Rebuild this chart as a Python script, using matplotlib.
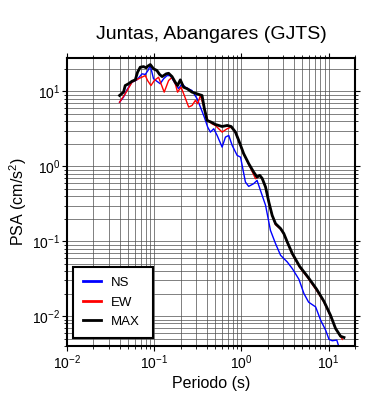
import numpy as np
import matplotlib
matplotlib.use("Agg")
import matplotlib.pyplot as plt
from matplotlib.ticker import LogLocator, NullFormatter

plt.rcParams['font.family'] = ['Liberation Sans', 'DejaVu Sans']
plt.rcParams['mathtext.default'] = 'regular'

# espectros de respuesta (periodo en s, PSA en cm/s2)
t_ns = [0.040, 0.0444, 0.0485, 0.0555, 0.0633, 0.0723, 0.0789, 0.0848, 0.090, 0.098,
        0.107, 0.117, 0.128, 0.140, 0.153, 0.174, 0.190, 0.208, 0.227, 0.271,
        0.310, 0.338, 0.376, 0.410, 0.440, 0.481, 0.526, 0.600, 0.655, 0.715,
        0.782, 0.893, 0.976, 1.11, 1.21, 1.38, 1.51, 1.65, 1.89, 2.15,
        2.46, 2.81, 3.35, 3.83, 4.56, 5.20, 5.89, 7.09, 8.09, 9.24,
        10.1, 11.0, 12.4, 13.1]
psa_ns = [7.2, 8.4, 10.5, 13.3, 14.3, 17.2, 16.9, 19.1, 22.2, 14.8,
          13.7, 12.7, 14.8, 16.3, 16.3, 12.7, 10.9, 12.7, 11.4, 10.3,
          8.0, 6.2, 4.5, 3.34, 2.87, 3.18, 2.59, 1.81, 2.46, 2.59,
          1.91, 1.40, 1.33, 0.618, 0.541, 0.588, 0.65, 0.479, 0.302, 0.14,
          0.093, 0.065, 0.053, 0.0432, 0.0311, 0.0201, 0.0154, 0.0133, 0.00885, 0.0065,
          0.0049, 0.0047, 0.0048, 0.0039]

t_ew = [0.040, 0.0464, 0.0555, 0.066, 0.0789, 0.0838, 0.0916, 0.100, 0.112, 0.130,
        0.146, 0.160, 0.174, 0.185, 0.203, 0.221, 0.248, 0.271, 0.296, 0.315,
        0.338, 0.376, 0.410, 0.460, 0.502, 0.600, 0.686, 0.762, 0.853, 0.931,
        1.06, 1.21, 1.45, 1.62, 1.73, 1.89, 2.06, 2.25, 2.46, 2.81,
        3.06, 3.35, 3.83, 4.64, 5.81, 7.28, 8.83, 10.5, 12.0, 14.4]
psa_ew = [7.2, 9.3, 13.3, 14.8, 16.3, 14.0, 12.0, 14.0, 15.5, 9.8,
          14.0, 15.5, 12.7, 9.8, 11.4, 8.85, 6.2, 6.5, 7.6, 6.85,
          8.85, 5.87, 4.1, 3.7, 3.52, 2.87, 3.18, 3.35, 2.84, 2.18,
          1.45, 1.07, 0.685, 0.75, 0.68, 0.52, 0.33, 0.22, 0.166, 0.145,
          0.125, 0.096, 0.067, 0.045, 0.032, 0.022, 0.0154, 0.0100, 0.0068, 0.0049]

t_max = [0.040, 0.0444, 0.0464, 0.0507, 0.0555, 0.0606, 0.0643, 0.069, 0.0753, 0.081,
         0.0838, 0.090, 0.098, 0.107, 0.115, 0.123, 0.137, 0.146, 0.160, 0.174,
         0.185, 0.199, 0.217, 0.238, 0.271, 0.310, 0.353, 0.376, 0.404, 0.449,
         0.502, 0.600, 0.686, 0.762, 0.853, 0.931, 1.06, 1.21, 1.38, 1.51,
         1.62, 1.73, 1.89, 2.06, 2.25, 2.46, 2.81, 3.06, 3.35, 3.83,
         4.64, 5.81, 7.28, 8.83, 10.5, 12.0, 13.7, 15.0]
psa_max = [8.85, 9.8, 12.0, 12.7, 13.7, 14.3, 18.1, 21.1, 21.5, 20.7,
           21.7, 22.9, 20.1, 19.1, 16.9, 15.8, 17.2, 17.5, 15.8, 13.3,
           12.0, 14.3, 11.4, 10.9, 9.8, 9.3, 8.85, 5.87, 4.1, 3.9,
           3.63, 3.41, 3.52, 3.41, 2.87, 2.22, 1.48, 1.09, 0.84, 0.72,
           0.76, 0.69, 0.53, 0.334, 0.222, 0.172, 0.148, 0.127, 0.098, 0.0686,
           0.0464, 0.0331, 0.0229, 0.0158, 0.0103, 0.00686, 0.0054, 0.0052]

fig = plt.figure(figsize=(3.9, 4.0), dpi=100)
ax = fig.add_axes([0.172, 0.135, 0.738, 0.72])

ax.plot(t_ns, psa_ns, color='blue', lw=1.0, label='NS')
ax.plot(t_ew, psa_ew, color='red', lw=1.0, label='EW')
ax.plot(t_max, psa_max, color='black', lw=2.0, label='MAX')

ax.set_xscale('log')
ax.set_yscale('log')
ax.set_xlim(0.01, 20)
ax.set_ylim(0.004, 28)

for axis in (ax.xaxis, ax.yaxis):
    axis.set_major_locator(LogLocator(base=10, numticks=10))
    axis.set_minor_locator(LogLocator(base=10, subs=np.arange(2, 10), numticks=10))
    axis.set_minor_formatter(NullFormatter())

ax.grid(True, which='both', color='0.3', lw=0.5)
ax.tick_params(which='both', direction='out', top=True, right=True, labelsize=10)
ax.tick_params(which='major', length=3.5, width=0.8, pad=1.5)
ax.tick_params(which='minor', length=2, width=0.6)
for s in ax.spines.values():
    s.set_linewidth(1.5)

ax.set_title('Juntas, Abangares (GJTS)', fontsize=14, pad=14)
ax.set_xlabel('Periodo (s)', fontsize=11.5, labelpad=3)
ax.set_ylabel('PSA (cm/s$^2$)', fontsize=11.5, labelpad=2)

leg = ax.legend(loc='lower left', bbox_to_anchor=(0.021, 0.028, 0.278, 0.247),
                mode='expand', fancybox=False, edgecolor='black', framealpha=1,
                fontsize=9.5, handlelength=1.4, handletextpad=0.7,
                borderpad=0.75, labelspacing=0.55, borderaxespad=0)
leg.get_frame().set_linewidth(1.5)
for h in leg.legend_handles:
    h.set_linewidth(2.0)

fig.savefig('out.png', dpi=100)
